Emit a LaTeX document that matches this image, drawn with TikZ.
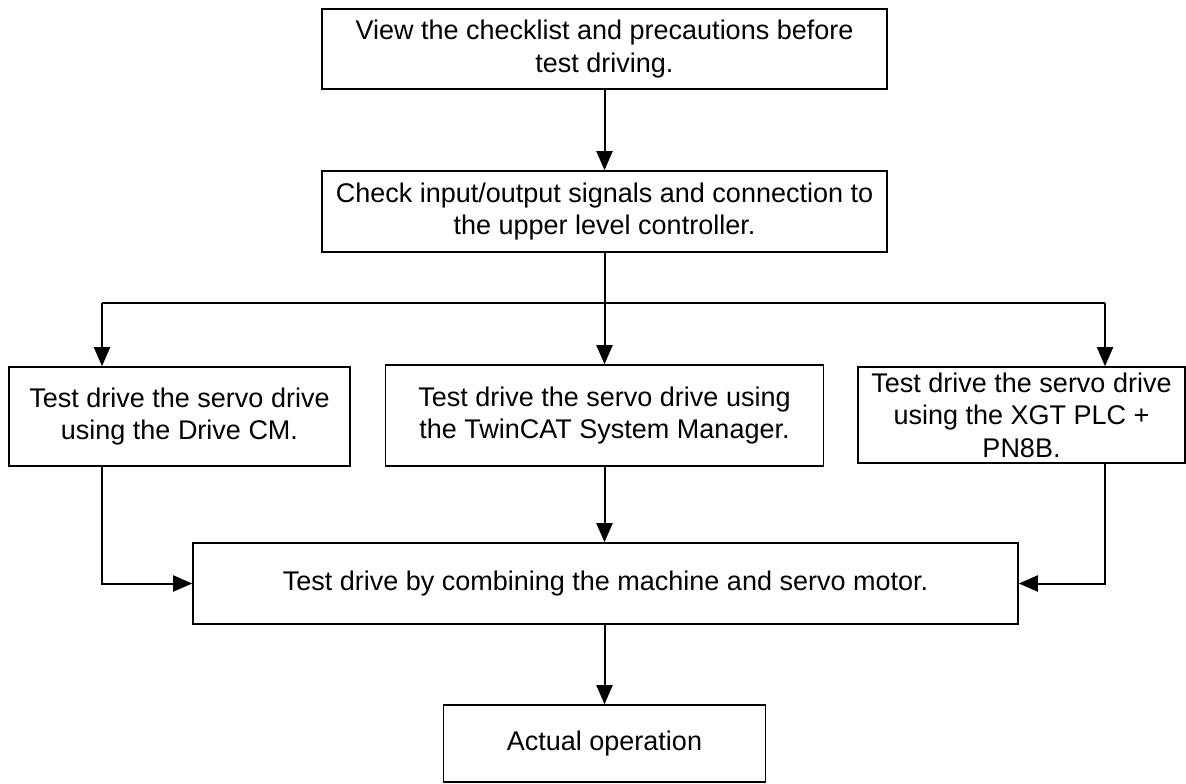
\documentclass[tikz,border=0pt]{standalone}
\usepackage{fontspec}
\setmainfont{Liberation Sans}
\usetikzlibrary{arrows.meta}

\begin{document}
\begin{tikzpicture}[x=1pt, y=-1pt,
    stepbox/.style={draw, line width=1.6pt, align=center, inner sep=0pt,
        font=\fontsize{27}{32.5}\selectfont},
    flow/.style={line width=2pt, -{Triangle[length=19pt, width=16pt]}},
    link/.style={line width=2pt}]
    \useasboundingbox (0,0) rectangle (1186,784);

    % main column
    \node[stepbox, minimum width=565pt, minimum height=80pt] (view) at (604.5,49)
        {View the checklist and precautions before\\test driving.};
    \node[stepbox, minimum width=565pt, minimum height=81pt] (check) at (604.5,211.5)
        {Check input/output signals and connection to\\the upper level controller.};

    % three ways of test driving
    \node[stepbox, minimum width=341pt, minimum height=99pt] (drivecm) at (179.5,416.5)
        {Test drive the servo drive\\using the Drive CM.};
    \node[stepbox, minimum width=438pt, minimum height=101pt] (twincat) at (604.5,415.5)
        {Test drive the servo drive using\\the TwinCAT System Manager.};
    \node[stepbox, minimum width=327pt, minimum height=96pt] (xgt) at (1021.5,415)
        {Test drive the servo drive\\using the XGT PLC +\\PN8B.};

    \node[stepbox, minimum width=825pt, minimum height=81pt] (machine) at (605.5,583.5)
        {Test drive by combining the machine and servo motor.};
    \node[stepbox, minimum width=322pt, minimum height=77pt] (actual) at (604.5,743.5)
        {Actual operation};

    % branch points
    \coordinate (split) at (604.5,303);
    \coordinate (splitL) at (102,303);
    \coordinate (splitR) at (1105,303);

    \draw[flow] (view.south) -- (check.north);
    \draw[link] (check.south) -- (split);
    \draw[link] (splitL) -- (splitR);
    \draw[flow] (splitL) -- (splitL |- drivecm.north);
    \draw[flow] (split) -- (twincat.north);
    \draw[flow] (splitR) -- (splitR |- xgt.north);

    % back together
    \draw[flow] (splitL |- drivecm.south) -- (splitL |- machine.west) -- (machine.west);
    \draw[flow] (twincat.south) -- (twincat.south |- machine.north);
    \draw[flow] (splitR |- xgt.south) -- (splitR |- machine.east) -- (machine.east);
    \draw[flow] (actual.north |- machine.south) -- (actual.north);
\end{tikzpicture}
\end{document}
